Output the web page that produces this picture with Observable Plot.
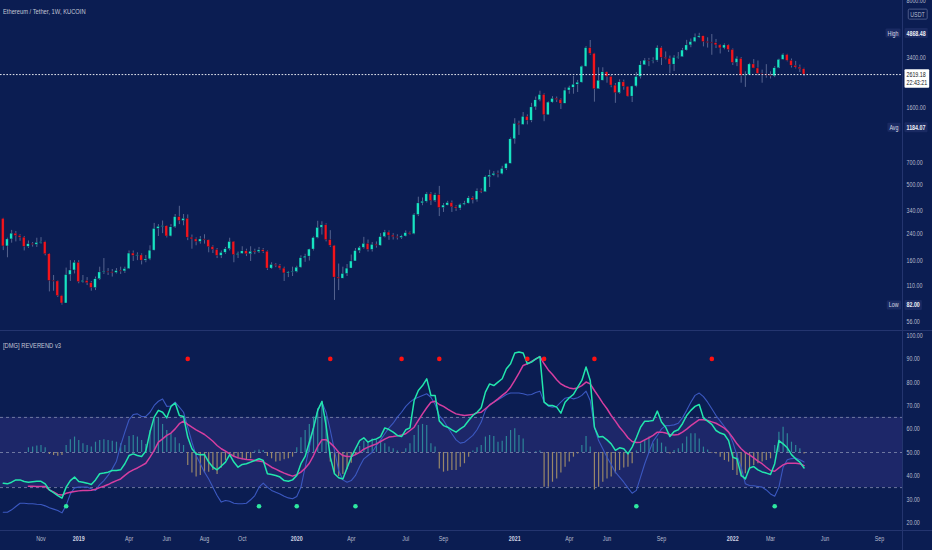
<!DOCTYPE html>
<html><head><meta charset="utf-8">
<script src="https://cdn.jsdelivr.net/npm/d3@7"></script>
<script src="https://cdn.jsdelivr.net/npm/@observablehq/plot@0.6"></script>
<style>
html,body{margin:0;padding:0;background:#0b1d52;}
#wrap{position:relative;width:932px;height:550px;overflow:hidden;background:#0b1d52;font-family:"Liberation Sans",Arial,sans-serif;}
#price{position:absolute;left:0;top:0;}
#ind{position:absolute;left:0;top:331px;}
.ttl{position:absolute;color:#c3c7d6;font-size:7.4px;white-space:nowrap;transform:scaleX(0.78);transform-origin:0 0;}
.sep{position:absolute;background:#24356f;}
</style></head><body>
<div id="wrap">
  <div id="price"></div>
  <div id="ind"></div>
  <div class="sep" style="left:0;top:330px;width:932px;height:1px"></div>
  <div class="sep" style="left:0;top:530px;width:932px;height:1px"></div>
  <div class="sep" style="left:902px;top:0;width:1px;height:550px"></div>
  <div class="ttl" style="left:3px;top:7px">Ethereum / Tether, 1W, KUCOIN</div>
  <div class="ttl" style="left:3px;top:341px">[DMG] REVEREND v3</div>
</div>
<script>
// ---------- data (weekly bars, first bar = week of 2018-09-03) ----------
const firstOpen = 300;
const closes = [
198,220,240,232,226,197,205,203,209,211,
176,118,117,94,84,129,138,155,116,118,
114,106,121,134,135,134,133,137,136,141,
178,172,173,160,163,186,258,266,268,230,
264,308,290,300,226,220,212,220,217,196,
188,172,180,190,212,174,177,184,176,183,
182,187,183,142,150,148,142,132,134,135,
144,166,170,189,225,262,272,218,200,124,
122,131,142,158,185,194,206,188,203,200,
228,244,233,228,225,230,242,238,318,378,
388,433,392,428,353,366,380,357,350,370,
377,408,396,453,447,560,575,590,585,636,
685,990,1250,1230,1390,1310,1600,1780,1930,1420,
1720,1820,1790,1690,2060,2150,2250,2320,2950,3900,
3580,2100,2390,2710,2530,2220,1980,2330,2180,1880,
2190,2530,3010,3230,3200,3230,3900,3370,3320,3040,
3370,3400,3760,4060,4270,4570,4660,4270,4210,4200,
4060,3880,4060,3790,3120,3320,2570,2600,3050,2870,
2650,2620,2580,2550,2880,3270,3520,3220,2990,2910,
2840,2619.18];
const highs = [
302,224,252,248,236,230,215,210,224,226,
214,178,128,118,95,143,160,160,160,128,
124,117,125,145,165,142,140,142,145,145,
185,185,180,177,173,200,280,275,290,270,
275,320,362,320,318,235,225,230,236,218,
200,192,185,195,224,213,182,197,190,197,
190,195,192,185,155,153,151,145,136,145,
147,172,176,190,228,289,287,278,251,201,
152,145,151,174,192,198,227,218,210,212,
240,252,250,240,236,234,250,246,324,415,
410,444,445,440,488,377,390,392,365,375,
390,420,418,470,470,570,622,610,615,660,
690,1010,1350,1300,1480,1430,1700,1870,2040,1960,
1740,1880,1870,1820,2140,2200,2550,2400,2980,3980,
4370,3600,2900,2900,2740,2600,2290,2420,2410,2190,
2200,2700,3190,3330,3340,3370,4030,3970,3680,3460,
3480,3650,3880,4380,4470,4820,4868.48,4650,4550,4780,
4440,4110,4150,4100,3850,3420,3380,2730,3100,3280,
3210,2800,3040,2730,2950,3300,3580,3550,3310,3190,
3020,2880];
const lows = [
186,167,208,212,214,185,192,196,195,205,
172,100,101,92,82,84,117,131,113,114,
110,101,102,119,130,128,125,131,130,132,
140,158,160,150,155,160,185,230,240,225,
228,260,275,270,216,190,200,205,205,180,
178,165,165,176,185,155,165,176,170,158,
175,178,178,138,140,144,139,117,124,126,
133,142,156,159,185,222,235,212,195,88,
102,125,126,150,158,178,190,182,182,193,
198,225,217,218,218,220,228,235,236,310,
365,380,366,383,310,330,364,330,335,340,
365,374,375,385,438,445,480,565,555,580,
620,685,920,1050,1220,1230,1270,1530,1740,1290,
1420,1700,1720,1550,1690,1950,1950,2000,2300,2920,
3500,1730,2100,2380,2300,2150,1700,1950,2070,1860,
1720,2150,2450,3000,2950,3080,3150,3000,3270,2650,
2740,3300,3400,3720,3920,4230,4500,3970,3900,3500,
3870,3570,3800,3650,3000,2950,2300,2160,2580,2860,
2570,2300,2480,2450,2500,2860,3250,3170,2890,2850,
2700,2540];
const lastPrice = 2619.18;
const lastTimer = "22:43:21";
const statHigh = 4868.48, statAvg = 1184.07, statLow = 82.00;
const priceTicks = [8000, 3400, 1600, 700, 500, 340, 240, 160, 110];
const priceTickBottom = [56];

// indicator series
const greenLine = [
36.9,36.6,37.3,38.3,38.3,37.6,37.3,37.5,37.7,37.7,
36.6,34.0,32.8,31.6,30.5,35.2,38.0,39.5,37.6,37.3,
36.9,36.3,38.3,40.9,41.2,41.6,42.3,42.3,42.6,45.2,
48.7,49.4,48.7,48.3,50.6,58.7,65.1,68.0,67.2,64.8,
69.7,71.1,65.8,65.4,56.6,51.6,49.4,49.0,49.1,45.9,
43.7,42.6,44.2,45.9,49.1,45.9,43.7,44.9,45.2,45.9,
46.6,47.3,46.6,40.9,40.6,40.2,39.5,38.0,37.7,38.3,
40.2,45.2,48.3,54.4,60.5,68.0,71.8,61.5,48.0,40.9,
39.2,38.7,43.4,48.0,51.6,55.1,56.3,54.4,55.4,55.8,
56.8,60.5,59.8,58.7,57.3,56.8,59.7,60.5,72.2,76.5,
78.6,81.5,74.4,74.4,63.5,61.5,60.8,59.7,58.7,60.1,
61.3,63.7,65.8,67.2,69.1,75.8,79.3,78.6,80.1,81.5,
85.8,87.9,92.5,92.9,92.5,87.9,88.6,90.0,91.0,71.5,
70.1,70.1,69.4,66.8,71.5,73.4,74.8,77.9,80.8,86.5,
80.8,60.8,56.6,56.8,55.4,53.7,50.9,52.0,51.6,49.4,
52.3,56.3,60.8,63.4,63.4,63.7,67.7,63.0,60.8,56.8,
59.0,59.7,62.3,65.8,68.0,69.7,70.5,64.8,63.4,62.0,
59.4,58.3,57.7,55.1,48.0,47.3,40.2,38.7,43.4,44.0,
42.6,41.7,41.2,40.6,45.2,55.1,53.7,52.0,49.1,47.3,
45.9,43.4];
const signalLine = [
null,null,null,null,null,null,35.6,35.6,35.5,35.5,
35.5,34.0,33.2,32.1,31.8,32.6,33.0,33.3,33.6,33.8,
33.8,33.9,34.3,35.0,35.6,36.3,37.2,38.0,38.7,40.2,
41.6,42.6,43.4,44.4,45.4,48.0,50.9,54.4,55.8,57.3,
58.3,60.1,62.3,63.4,62.0,60.8,59.7,58.7,57.7,56.3,
54.8,53.0,51.6,50.6,49.4,48.4,47.7,47.3,47.0,46.9,
46.6,46.4,46.0,44.9,43.7,42.9,42.0,41.2,40.5,39.9,
40.5,41.6,43.3,45.4,48.7,52.6,55.4,55.5,54.0,52.3,
50.1,48.7,48.3,48.3,49.1,50.1,51.4,52.3,53.0,53.7,
54.7,55.7,56.6,56.8,57.1,57.5,58.0,59.4,60.8,63.7,
66.5,69.1,71.5,71.9,70.5,69.7,68.5,67.5,66.5,66.1,
65.8,66.0,66.2,67.0,67.2,68.7,70.2,71.5,72.9,74.4,
75.8,77.9,80.8,83.9,87.2,87.9,88.9,89.9,91.0,87.9,
85.3,83.3,81.1,79.3,78.3,77.6,77.2,77.6,78.6,80.1,
79.3,76.5,73.9,71.1,68.7,65.8,63.4,60.8,58.7,56.3,
54.7,54.3,54.4,55.4,56.3,57.3,58.7,58.7,58.3,57.7,
57.5,57.7,58.7,60.0,61.5,62.8,64.0,64.0,63.7,63.1,
62.5,61.5,60.4,58.7,56.3,53.7,51.6,50.0,49.0,47.7,
46.3,45.2,43.7,42.3,42.0,43.4,44.7,45.4,45.4,45.4,
45.2,44.4];
const blueLine = [
24.5,24.5,25.5,26.9,28.3,28.3,28.1,28.1,27.9,27.8,
27.2,26.4,25.8,25.2,24.2,27.4,32.3,34.9,35.2,35.2,
35.2,34.5,33.8,36.3,38.0,40.2,43.0,46.3,53.0,58.7,
64.0,66.2,66.5,65.4,65.4,67.2,70.1,71.9,72.9,69.7,
69.9,71.5,69.4,67.2,60.8,54.4,48.7,45.2,41.6,38.7,
35.2,31.6,28.8,29.5,29.2,28.3,28.1,28.1,28.3,29.8,
31.6,35.2,36.9,35.2,33.8,33.0,32.3,31.3,30.6,30.2,
31.2,35.2,43.7,52.3,60.8,68.0,71.5,67.2,59.4,50.9,
42.3,38.3,37.3,38.0,40.2,44.0,47.3,48.7,50.1,53.0,
55.4,58.0,60.5,62.5,65.1,67.2,69.7,71.5,72.9,73.6,
74.4,75.1,73.6,70.5,65.8,63.7,60.8,58.0,55.4,54.0,
54.4,55.8,57.3,59.7,63.0,68.0,70.5,71.5,72.5,73.6,
74.8,75.4,75.4,75.4,75.1,74.6,74.8,75.6,76.2,71.5,
69.8,69.4,69.7,71.5,73.2,73.6,72.9,73.4,74.4,76.2,
72.2,60.8,55.1,51.6,48.0,44.9,41.6,39.5,37.3,34.9,
32.6,33.8,39.5,45.2,50.1,54.8,57.3,60.1,61.5,61.5,
61.8,62.5,64.8,68.0,71.5,74.4,75.4,73.9,71.5,68.7,
65.8,63.4,61.1,58.7,54.4,48.7,43.7,36.6,35.9,35.8,
35.5,35.2,34.0,32.3,31.3,35.2,43.7,46.9,47.4,47.6,
46.9,45.9];
const histogram = [
null,null,null,null,null,null,52.0,52.3,52.8,53.0,
52.0,49.1,48.7,48.4,48.7,53.0,55.4,56.6,55.1,53.7,
53.0,52.3,54.4,55.1,55.4,55.1,54.8,54.4,53.7,53.0,
56.8,57.3,56.6,55.1,53.4,59.4,64.0,64.8,62.0,59.4,
58.0,56.3,53.7,53.0,44.4,41.2,39.5,40.2,41.2,41.6,
42.3,40.6,43.4,46.6,48.7,48.3,47.3,46.9,46.6,47.3,
50.6,51.1,50.9,48.3,47.3,45.9,46.3,46.9,47.3,48.0,
52.0,56.3,59.4,62.0,65.1,68.7,71.9,65.4,45.9,41.2,
39.7,40.6,42.6,45.4,48.7,52.6,54.8,54.0,55.8,55.1,
54.4,53.7,52.3,51.6,50.6,49.7,51.6,53.7,57.3,61.5,
62.0,61.5,53.7,52.3,43.0,41.6,42.0,42.3,42.3,43.7,
45.2,48.0,50.6,52.0,53.0,56.6,57.3,56.8,54.4,54.8,
56.8,59.4,60.1,57.3,55.8,50.3,50.0,50.3,50.6,35.2,
35.2,37.3,38.7,41.2,43.7,45.9,48.0,49.4,53.0,56.8,
52.3,34.0,35.2,37.3,38.7,39.5,40.9,42.3,43.4,43.7,
45.2,50.6,53.7,55.1,56.6,53.7,55.8,54.0,52.3,49.4,
50.9,51.6,53.7,56.6,58.0,58.0,55.8,52.3,51.1,49.7,
49.4,48.0,46.6,45.9,42.3,40.2,39.5,40.9,42.6,44.4,
45.2,45.9,46.6,47.3,53.0,58.7,60.8,58.0,54.4,53.0,
51.6,49.4];
const sellSignals = [44, 78, 95, 104, 125, 129, 141, 169];   // red dots (week index)
const buySignals = [15, 61, 70, 84, 151, 184];               // green dots
const sellLevel = 90, buyLevel = 27;
const bandLow = 35, bandMid = 50, bandHigh = 65;
const indTicks = [20, 30, 40, 50, 60, 70, 80, 90, 100];
const monthTicks = [
  {i: 9, t: "Nov"}, {i: 30, t: "Apr"}, {i: 39, t: "Jun"}, {i: 48, t: "Aug"}, {i: 57, t: "Oct"},
  {i: 83, t: "Apr"}, {i: 96, t: "Jul"}, {i: 105, t: "Sep"}, {i: 135, t: "Apr"}, {i: 144, t: "Jun"},
  {i: 157, t: "Sep"}, {i: 183, t: "Mar"}, {i: 196, t: "Jun"}, {i: 209, t: "Sep"}];
const yearTicks = [{i: 18, t: "2019"}, {i: 70, t: "2020"}, {i: 122, t: "2021"}, {i: 174, t: "2022"}];

// ---------- rendering ----------
const FONT = '"Liberation Sans",Arial,sans-serif';
const TXT = "#b7bccd";
const FS = 7.2;
const X_DOMAIN = [-0.66, 214.48];
const UP = "#17e3c2", DOWN = "#f2141b";

const candles = closes.map((c, i) => {
  const o = i === 0 ? firstOpen : closes[i - 1];
  let lo = Math.min(o, c), hi = Math.max(o, c);
  if (hi / lo < 1.012) { const m = Math.sqrt(hi * lo); lo = m / 1.006; hi = m * 1.006; }
  return {i, o, c, h: highs[i], l: lows[i], b0: lo, b1: hi, up: c >= o};
});

const badges = [
  {v: statHigh, lab: "High"}, {v: statAvg, lab: "Avg"}, {v: statLow, lab: "Low"}];

const priceChart = Plot.plot({
  width: 932, height: 330, marginLeft: 0, marginRight: 30, marginTop: 0, marginBottom: 0,
  style: {background: "transparent", color: TXT, fontFamily: FONT, fontSize: FS + "px", overflow: "visible"},
  x: {type: "linear", domain: X_DOMAIN, axis: null},
  y: {type: "log", domain: [56, 7970], axis: null},
  marks: [
    Plot.ruleX(candles, {x: "i", y1: "l", y2: "h", stroke: "#56648f", strokeWidth: 1}),
    Plot.rect(candles, {x1: d => d.i - 0.33, x2: d => d.i + 0.33, y1: "b0", y2: "b1",
      fill: d => d.up ? UP : DOWN, stroke: "#0a1645", strokeWidth: 0.4}),
    Plot.ruleY([lastPrice], {stroke: "#e6e8ef", strokeDasharray: "1.6,1.6", strokeWidth: 1}),
    Plot.text(priceTicks, {y: d => d, frameAnchor: "right", dx: 4, textAnchor: "start", text: d => d.toFixed(2), fill: TXT, fontSize: FS}),
    Plot.text(priceTickBottom, {y: d => d, frameAnchor: "right", dx: 4, dy: -9, textAnchor: "start", text: d => d.toFixed(2), fill: TXT, fontSize: FS}),
    Plot.text(badges, {y: "v", frameAnchor: "right", dx: -4, textAnchor: "end", text: "lab", fill: "#d6d9e4", fontSize: FS}),
    Plot.text(badges, {y: "v", frameAnchor: "right", dx: 4, textAnchor: "start", text: d => d.v.toFixed(2), fill: "#eef0f6", fontSize: FS, fontWeight: "bold"}),
    Plot.text([lastPrice], {y: d => d, frameAnchor: "right", dx: 4, textAnchor: "start", text: d => d.toFixed(2), fill: "#131722", fontSize: FS}),
    Plot.text([lastPrice], {y: d => d, frameAnchor: "right", dx: 4, dy: 8.5, textAnchor: "start", text: () => lastTimer, fill: "#131722", fontSize: FS}),
    Plot.text(["USDT"], {frameAnchor: "top-right", dx: 15, dy: 11, textAnchor: "middle", text: d => d, fill: TXT, fontSize: FS})
  ]
});
document.getElementById("price").appendChild(priceChart);

const ind = greenLine.map((g, i) => ({i, g, m: signalLine[i], b: blueLine[i], h: histogram[i]}));

const indChart = Plot.plot({
  width: 932, height: 219, marginLeft: 0, marginRight: 30, marginTop: 0, marginBottom: 20,
  style: {background: "transparent", color: TXT, fontFamily: FONT, fontSize: FS + "px", overflow: "visible"},
  x: {type: "linear", domain: X_DOMAIN, axis: null},
  y: {domain: [16.67, 101.7], axis: null},
  marks: [
    Plot.rect([{lo: bandLow, hi: bandHigh}], {y1: "lo", y2: "hi", fill: "#1d2769"}),
    Plot.ruleY([bandLow, bandMid, bandHigh], {stroke: "#8c94b4", strokeOpacity: 0.75, strokeDasharray: "3,3", strokeWidth: 1}),
    Plot.ruleX(ind.filter(d => d.h != null), {x: "i", y1: bandMid, y2: "h",
      stroke: d => d.h >= bandMid ? "#2d8498" : "#988769", strokeWidth: 1.2}),
    Plot.line(ind, {x: "i", y: "b", stroke: "#3b58c0", strokeWidth: 1.1}),
    Plot.line(ind, {x: "i", y: "m", stroke: "#d63ea0", strokeWidth: 1.5}),
    Plot.line(ind, {x: "i", y: "g", stroke: "#22e6ad", strokeWidth: 1.5}),
    Plot.dot(sellSignals, {x: d => d, y: sellLevel, r: 2.3, fill: "#ff1111", stroke: "none"}),
    Plot.dot(buySignals, {x: d => d, y: buyLevel, r: 2.3, fill: "#2ee8a0", stroke: "none"}),
    Plot.text(indTicks, {y: d => d, frameAnchor: "right", dx: 4, textAnchor: "start", text: d => d.toFixed(2), fill: TXT, fontSize: FS}),
    Plot.text(monthTicks, {x: "i", text: "t", frameAnchor: "bottom", dy: 10, fill: TXT, fontSize: FS}),
    Plot.text(yearTicks, {x: "i", text: "t", frameAnchor: "bottom", dy: 10, fill: "#d0d4e2", fontSize: FS, fontWeight: "bold"})
  ]
});
document.getElementById("ind").appendChild(indChart);

// narrow the glyphs like the reference's condensed UI font
function compress(svg, k) {
  svg.querySelectorAll("text").forEach(t => {
    if (t.querySelector("tspan")) return;
    const L = t.getComputedTextLength();
    if (L > 0) {
      t.setAttribute("textLength", (L * k).toFixed(2));
      t.setAttribute("lengthAdjust", "spacingAndGlyphs");
    }
  });
}
compress(priceChart, 0.74);
compress(indChart, 0.74);

function boxBehind(svg, strings, fill, stroke, px, py) {
  const all = Array.from(svg.querySelectorAll("text"));
  const s = svg.getBoundingClientRect();
  let x0 = Infinity, y0 = Infinity, x1 = -Infinity, y1 = -Infinity, g0 = null;
  strings.forEach(str => {
    const t = all.find(e => e.textContent === str);
    if (!t) return;
    const r = t.getBoundingClientRect();
    x0 = Math.min(x0, r.left - s.left); y0 = Math.min(y0, r.top - s.top);
    x1 = Math.max(x1, r.right - s.left); y1 = Math.max(y1, r.bottom - s.top);
    if (!g0) g0 = t.parentNode;
  });
  if (!g0) return;
  const rect = document.createElementNS("http://www.w3.org/2000/svg", "rect");
  rect.setAttribute("x", x0 - px); rect.setAttribute("y", y0 - py);
  rect.setAttribute("width", x1 - x0 + 2 * px); rect.setAttribute("height", y1 - y0 + 2 * py);
  rect.setAttribute("fill", fill); rect.setAttribute("stroke", stroke || "none");
  rect.setAttribute("rx", 1);
  let top = g0; while (top.parentNode && top.parentNode !== svg) top = top.parentNode;
  svg.insertBefore(rect, top);
}
badges.forEach(b => {
  boxBehind(priceChart, [b.lab], "#1a2a62", null, 2, 0);
  boxBehind(priceChart, [b.v.toFixed(2)], "#1a2a62", null, 2, 0.5);
});
boxBehind(priceChart, [lastPrice.toFixed(2), lastTimer], "#ffffff", null, 2, 0.5);
boxBehind(priceChart, ["USDT"], "none", "#4c5a88", 2, 0.5);
</script>
</body></html>
